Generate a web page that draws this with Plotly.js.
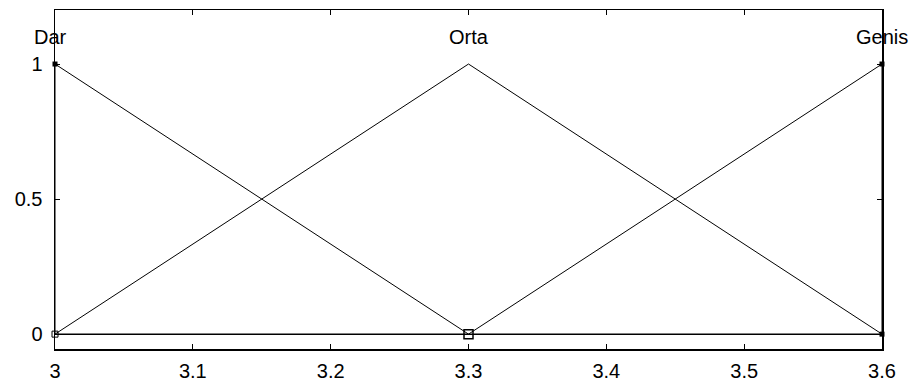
<!DOCTYPE html>
<html>
<head>
<meta charset="utf-8">
<script src="https://cdn.plot.ly/plotly-3.0.1.min.js"></script>
<style>
  html, body { margin: 0; padding: 0; background: #fff; }
  #chart { width: 913px; height: 384px; }
</style>
</head>
<body>
<div id="chart"></div>
<script>
// Triangular membership functions on the input range [3, 3.6]
const mfNames = ["Dar", "Orta", "Genis"];
const darX = [3, 3, 3.3];
const darY = [0, 1, 0];
const ortaX = [3, 3.3, 3.6];
const ortaY = [0, 1, 0];
const genisX = [3.3, 3.6, 3.6];
const genisY = [0, 1, 0];
const peakX = [3, 3.3, 3.6];
const labelY = 1.1;
const xTicks = [3, 3.1, 3.2, 3.3, 3.4, 3.5, 3.6];
const yTicks = [0, 0.5, 1];
const xRange = [3, 3.6];
const yRange = [-0.055, 1.2];

const font = "Liberation Sans, Arial, sans-serif";
const line = { color: "#000", width: 1 };
const traces = [
  { x: darX, y: darY, mode: "lines", line: line, hoverinfo: "skip" },
  { x: ortaX, y: ortaY, mode: "lines", line: line, hoverinfo: "skip" },
  { x: genisX, y: genisY, mode: "lines", line: line, hoverinfo: "skip" },
  // baseline at zero
  { x: xRange, y: [0, 0], mode: "lines", line: { color: "#000", width: 1.5 }, hoverinfo: "skip" },
  // vertex markers
  { x: [3, 3.6, 3.6], y: [1, 1, 0], mode: "markers", cliponaxis: false,
    marker: { symbol: "square", size: 5, color: "#000" }, hoverinfo: "skip" },
  { x: [3], y: [0], mode: "markers", cliponaxis: false,
    marker: { symbol: "square-open", size: 6, color: "#000", line: { width: 1 } }, hoverinfo: "skip" },
  { x: [3.3], y: [0], mode: "markers",
    marker: { symbol: "square-open", size: 9, color: "#000", line: { width: 1.5 } }, hoverinfo: "skip" }
];

// membership function names above each peak
const annotations = mfNames.map((name, i) => ({
  x: peakX[i], y: labelY, xref: "x", yref: "y", text: name,
  showarrow: false, xanchor: "center", yanchor: "middle",
  xshift: i === 0 ? -5 : 0,
  font: { family: font, size: 20, color: "#000" }
}));

const axisCommon = {
  showgrid: false, zeroline: false, showline: true, mirror: "ticks",
  linecolor: "#000", linewidth: 1.5, ticks: "inside", ticklen: 5,
  tickcolor: "#000", tickwidth: 1,
  tickfont: { family: font, size: 20, color: "#000" }
};

const layout = {
  width: 913, height: 384,
  margin: { l: 55, r: 31, t: 10, b: 35 },
  paper_bgcolor: "#fff", plot_bgcolor: "#fff",
  showlegend: false,
  annotations: annotations,
  xaxis: Object.assign({}, axisCommon, {
    range: xRange, tickvals: xTicks, ticktext: xTicks.map(String), ticklabelstandoff: 3
  }),
  yaxis: Object.assign({}, axisCommon, {
    range: yRange, tickvals: yTicks, ticktext: yTicks.map(String), ticklabelstandoff: 7
  })
};

Plotly.newPlot("chart", traces, layout, { staticPlot: true, displayModeBar: false });
</script>
</body>
</html>
